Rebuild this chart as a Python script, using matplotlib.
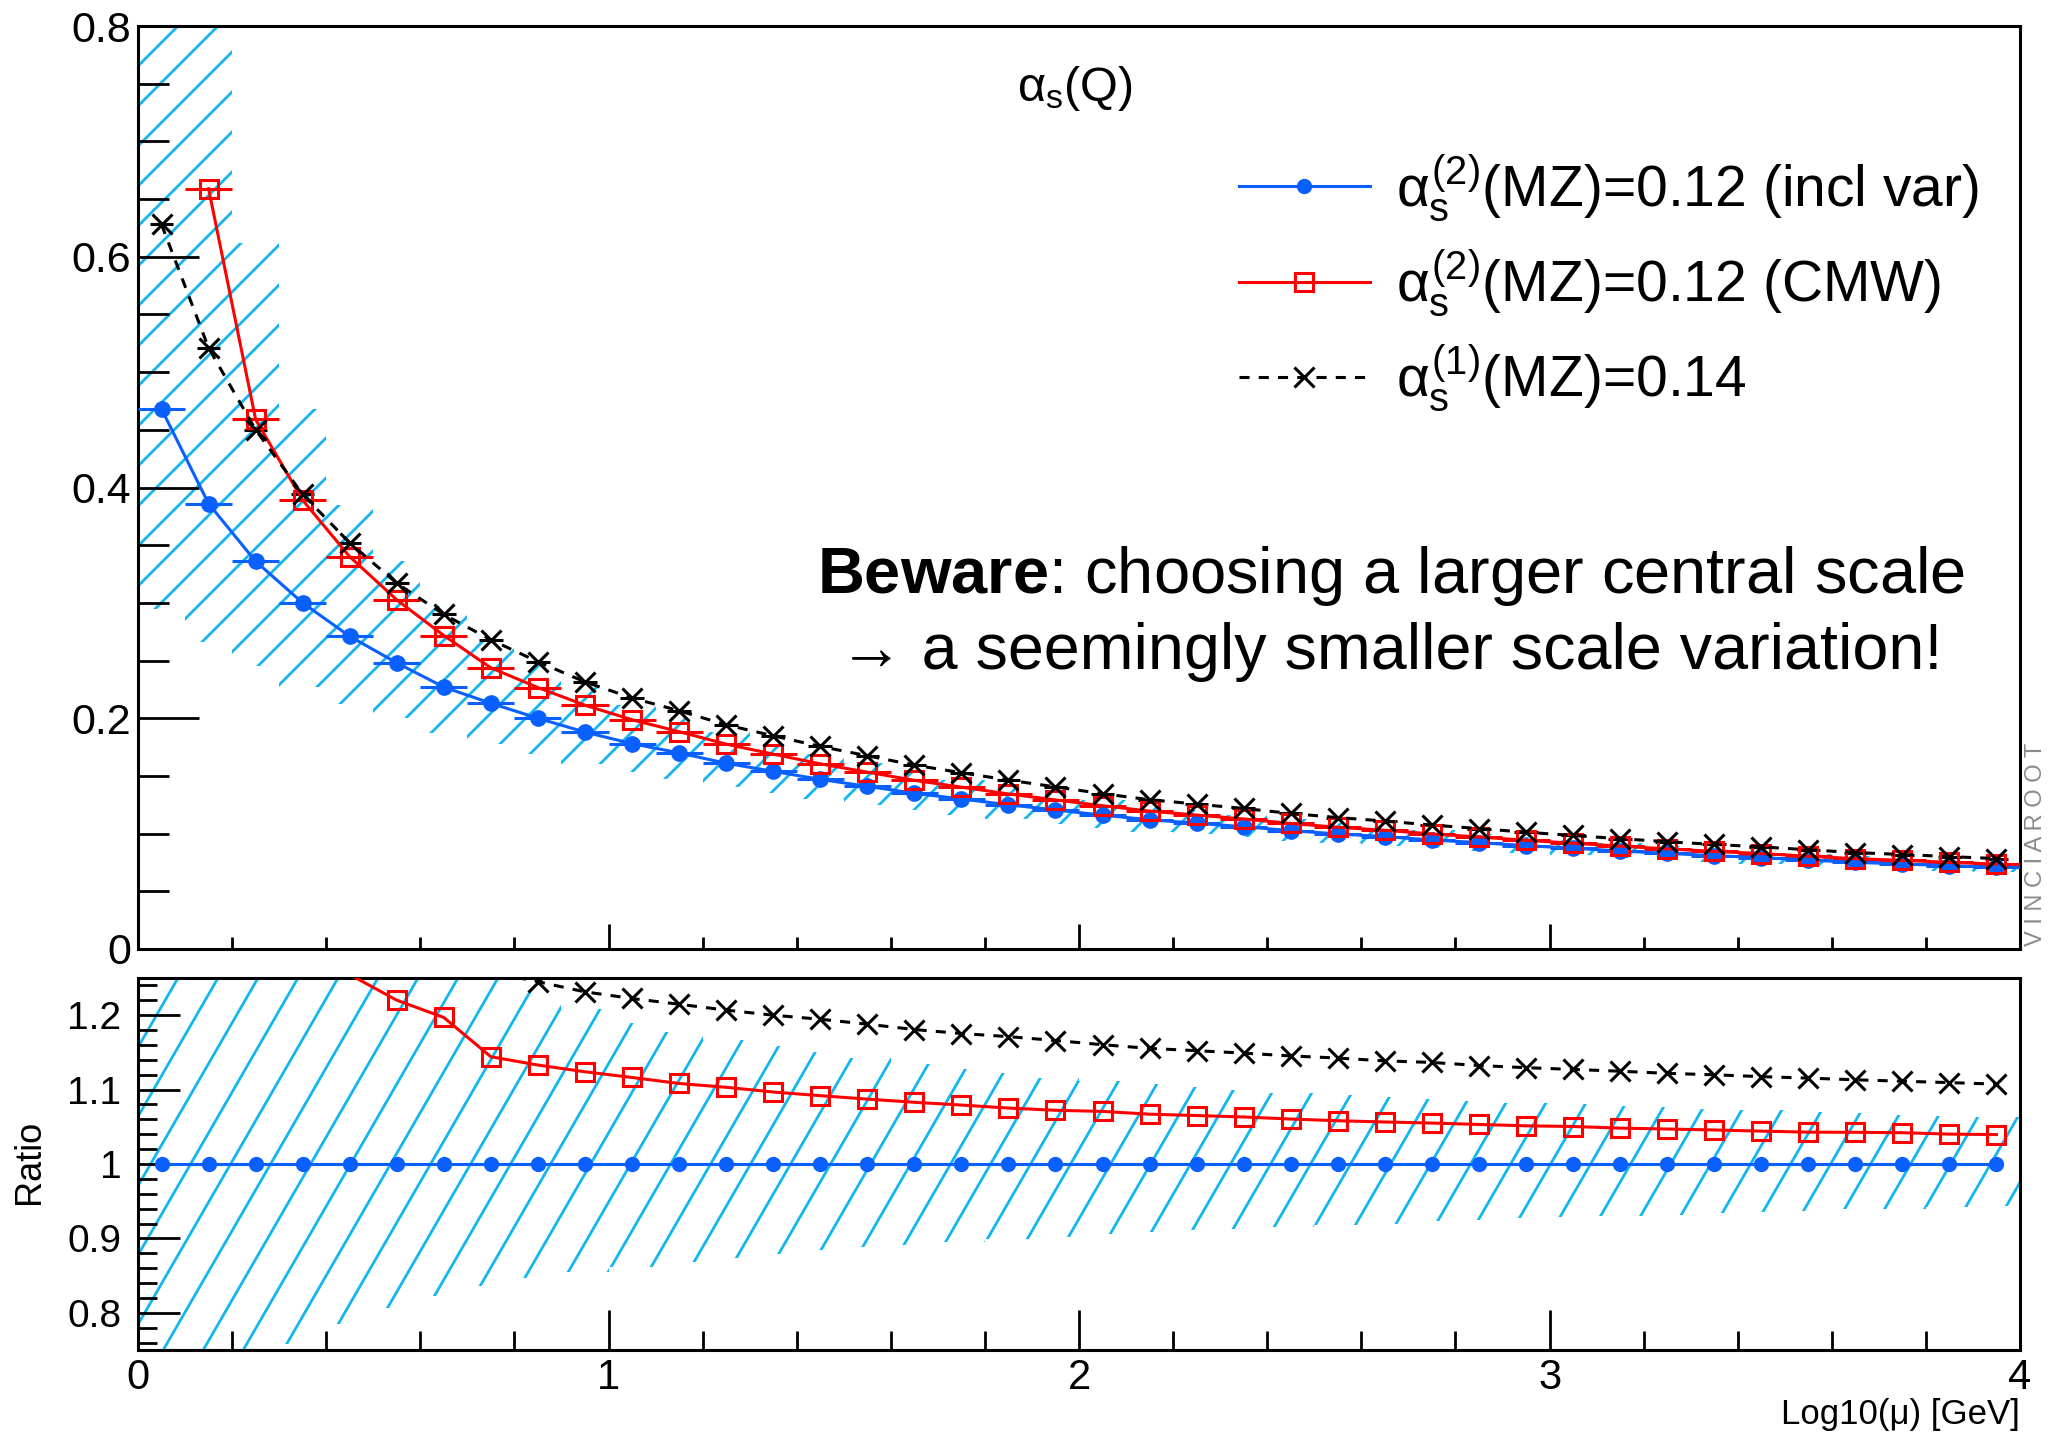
import numpy as np
import matplotlib
matplotlib.use("Agg")
import matplotlib.pyplot as plt
from matplotlib.collections import LineCollection
from matplotlib.lines import Line2D
from matplotlib.ticker import MultipleLocator, FixedLocator, FuncFormatter

plt.rcParams['font.family'] = ['Liberation Sans', 'DejaVu Sans']
plt.rcParams['mathtext.fontset'] = 'custom'
plt.rcParams['mathtext.rm'] = 'Liberation Sans'
plt.rcParams['mathtext.it'] = 'Liberation Sans'
plt.rcParams['mathtext.bf'] = 'Liberation Sans:bold'

# ---------------- data ----------------
log10_mu = [0.05, 0.15, 0.25, 0.35, 0.45, 0.55, 0.65, 0.75, 0.85, 0.95,
            1.05, 1.15, 1.25, 1.35, 1.45, 1.55, 1.65, 1.75, 1.85, 1.95,
            2.05, 2.15, 2.25, 2.35, 2.45, 2.55, 2.65, 2.75, 2.85, 2.95,
            3.05, 3.15, 3.25, 3.35, 3.45, 3.55, 3.65, 3.75, 3.85, 3.95]
bin_half_width = 0.05

alphas_incl_var = [0.468, 0.386, 0.336, 0.300, 0.271, 0.248, 0.227, 0.213, 0.200, 0.188,
                   0.178, 0.170, 0.161, 0.154, 0.147, 0.141, 0.135, 0.130, 0.125, 0.1205,
                   0.116, 0.112, 0.109, 0.106, 0.1026, 0.0997, 0.0974, 0.0945, 0.0922, 0.0896,
                   0.0873, 0.0850, 0.0829, 0.0809, 0.0792, 0.0771, 0.0751, 0.0737, 0.0722, 0.0708]

alphas_cmw = [np.nan, 0.659, 0.459, 0.389, 0.340, 0.3026, 0.2717, 0.2437, 0.2266, 0.2113,
              0.1987, 0.1884, 0.1776, 0.1689, 0.1605, 0.1533, 0.1462, 0.1403, 0.1344, 0.1292,
              0.1242, 0.1195, 0.1161, 0.1127, 0.1088, 0.1055, 0.1029, 0.0997, 0.0971, 0.0942,
              0.0917, 0.0891, 0.0868, 0.0846, 0.0827, 0.0804, 0.0783, 0.0768, 0.0751, 0.0736]

alphas_1loop = [0.628, 0.521, 0.450, 0.394, 0.352, 0.317, 0.290, 0.268, 0.249, 0.2315,
                0.2176, 0.2065, 0.1943, 0.1848, 0.1756, 0.1675, 0.1594, 0.1528, 0.1464, 0.1405,
                0.1346, 0.1294, 0.1256, 0.1218, 0.1175, 0.1139, 0.1109, 0.1074, 0.1044, 0.1012,
                0.0984, 0.0956, 0.0930, 0.0906, 0.0885, 0.0860, 0.0836, 0.0819, 0.0801, 0.0784]

# scale-variation band, relative to the central (incl var) curve
band_ratio_lo = [0.63, 0.69, 0.73, 0.758, 0.785, 0.806, 0.823, 0.836, 0.847, 0.855,
                 0.862, 0.868, 0.874, 0.879, 0.884, 0.888, 0.891, 0.895, 0.899, 0.902,
                 0.906, 0.909, 0.911, 0.913, 0.915, 0.918, 0.920, 0.923, 0.925, 0.927,
                 0.929, 0.930, 0.932, 0.934, 0.935, 0.937, 0.939, 0.940, 0.942, 0.943]
band_ratio_hi = [2.00, 2.10, 1.82, 1.56, 1.42, 1.355, 1.31, 1.262, 1.232, 1.208,
                 1.190, 1.177, 1.167, 1.158, 1.150, 1.142, 1.135, 1.128, 1.122, 1.116,
                 1.111, 1.107, 1.103, 1.099, 1.096, 1.093, 1.090, 1.087, 1.085, 1.082,
                 1.080, 1.078, 1.076, 1.074, 1.072, 1.070, 1.068, 1.066, 1.065, 1.063]

legend_labels = [r'$\alpha_{s}^{(2)}$(MZ)=0.12 (incl var)',
                 r'$\alpha_{s}^{(2)}$(MZ)=0.12 (CMW)',
                 r'$\alpha_{s}^{(1)}$(MZ)=0.14']
top_yticks = [0, 0.2, 0.4, 0.6, 0.8]
ratio_yticks = [0.8, 0.9, 1.0, 1.1, 1.2]
xticks = [0, 1, 2, 3, 4]

# ---------------- style ----------------
BLUE = '#0a5fff'
RED = '#ff0000'
HATCH = '#12b6f0'
W_PX, H_PX = 2056, 1434
TOP_YLIM = (0, 0.8)
RATIO_YLIM = (0.75, 1.25)

x = np.array(log10_mu)
blue = np.array(alphas_incl_var)
red = np.array(alphas_cmw)
black = np.array(alphas_1loop)
rlo = np.array(band_ratio_lo)
rhi = np.array(band_ratio_hi)
edges = np.append(x - bin_half_width, x[-1] + bin_half_width)

fig = plt.figure(figsize=(W_PX / 100, H_PX / 100), dpi=100)
ax1 = fig.add_axes([138 / W_PX, 1 - 949 / H_PX, 1882 / W_PX, 923 / H_PX])
ax2 = fig.add_axes([138 / W_PX, 1 - 1350 / H_PX, 1882 / W_PX, 372 / H_PX])


def hatch_band(ax, lo, hi, wpx, hpx, angle_deg=45.0, spacing=40.0, lw=2.0):
    poly = ax.fill_between(edges, np.append(lo, lo[-1]), np.append(hi, hi[-1]),
                           step='post', facecolor='none', edgecolor='none', linewidth=0)
    run = hpx / np.tan(np.radians(angle_deg))
    segs = []
    c = -run
    while c < wpx:
        segs.append([(c / wpx, 0.0), ((c + run) / wpx, 1.0)])
        c += spacing
    lc = LineCollection(segs, colors=HATCH, linewidths=lw, transform=ax.transAxes, zorder=1)
    ax.add_collection(lc, autolim=False)
    lc.set_clip_path(poly.get_paths()[0], ax.transData)


def inside(vals, lim):
    v = np.asarray(vals, dtype=float)
    return list(np.isfinite(v) & (v >= lim[0]) & (v <= lim[1]))


fmt = FuncFormatter(lambda v, p: '%g' % round(v, 6))

# ---------------- top panel ----------------
ax1.set_xlim(0, 4)
ax1.set_ylim(*TOP_YLIM)
hatch_band(ax1, blue * rlo, blue * rhi, 1882, 923, angle_deg=45)

ax1.errorbar(x, blue, xerr=bin_half_width, fmt='none', ecolor=BLUE, elinewidth=2.2, capsize=0, zorder=3)
ax1.plot(x, blue, color=BLUE, lw=2.2, marker='o', ms=11, zorder=4)
ax1.errorbar(x, red, xerr=bin_half_width, fmt='none', ecolor=RED, elinewidth=2.2, capsize=0, zorder=3)
ax1.plot(x, red, color=RED, lw=2.2, marker='s', ms=13, mfc='none', mec=RED, mew=2.2, zorder=4)
ax1.errorbar(x, black, xerr=bin_half_width / 2, fmt='none', ecolor='k', elinewidth=2.2, capsize=0, zorder=3)
ax1.plot(x, black, color='k', lw=2.2, ls=(0, (3.3, 3)), marker='x', ms=15, mew=2.2, zorder=4)

ax1.yaxis.set_major_locator(FixedLocator(top_yticks))
ax1.yaxis.set_minor_locator(MultipleLocator(0.05))
ax1.xaxis.set_major_locator(FixedLocator(xticks))
ax1.xaxis.set_minor_locator(MultipleLocator(0.2))
ax1.yaxis.set_major_formatter(fmt)
ax1.tick_params(which='both', direction='in', top=False, right=False, width=2)
ax1.tick_params(axis='y', which='major', length=44, labelsize=31, pad=5)
ax1.tick_params(axis='y', which='minor', length=22)
ax1.tick_params(axis='x', which='major', length=18, labelbottom=False)
ax1.tick_params(axis='x', which='minor', length=9)
for s in ax1.spines.values():
    s.set_linewidth(2.2)

handles = [Line2D([], [], color=BLUE, lw=2.2, marker='o', ms=10),
           Line2D([], [], color=RED, lw=2.2, marker='s', ms=13, mfc='none', mec=RED, mew=2.2),
           Line2D([], [], color='k', lw=2.2, ls=(0, (3.3, 3)), marker='x', ms=15, mew=2.2)]
ax1.legend(handles, legend_labels, loc='upper left', bbox_to_anchor=(0.585, 0.8625),
           frameon=False, fontsize=41, handlelength=2.3, handletextpad=0.46,
           labelspacing=0.42, borderpad=0, borderaxespad=0)

ax1.text(0.498, 0.932, r'$\alpha_{s}$(Q)', transform=ax1.transAxes, ha='center', va='center', fontsize=35)
ax1.text(2.663, 0.3086, r'$\mathbf{Beware}$: choosing a larger central scale',
         ha='center', va='baseline', fontsize=46.8)
ax1.text(2.663, 0.2427, '\u2192 a seemingly smaller scale variation!',
         ha='center', va='baseline', fontsize=46.5)
fig.text(2036 / W_PX, 1 - 946 / H_PX, 'V I N C I A R O O T', rotation=90,
         ha='center', va='bottom', color='#8a8a8a', fontsize=17)

# ---------------- ratio panel ----------------
ax2.set_xlim(0, 4)
ax2.set_ylim(*RATIO_YLIM)
hatch_band(ax2, rlo, rhi, 1882, 372, angle_deg=60)
r_blue = blue / blue
r_red = red / blue
r_black = black / blue
ax2.plot(x, r_blue, color=BLUE, lw=2.2, marker='o', ms=10, zorder=4,
         markevery=inside(r_blue, RATIO_YLIM))
ax2.plot(x, r_red, color=RED, lw=2.2, marker='s', ms=13, mfc='none', mec=RED, mew=2.2, zorder=4,
         markevery=inside(r_red, RATIO_YLIM))
ax2.plot(x, r_black, color='k', lw=2.2, ls=(0, (3.3, 3)), marker='x', ms=15, mew=2.2, zorder=4,
         markevery=inside(r_black, RATIO_YLIM))

ax2.yaxis.set_major_locator(FixedLocator(ratio_yticks))
ax2.yaxis.set_minor_locator(MultipleLocator(0.02))
ax2.xaxis.set_major_locator(FixedLocator(xticks))
ax2.xaxis.set_minor_locator(MultipleLocator(0.2))
ax2.yaxis.set_major_formatter(fmt)
ax2.xaxis.set_major_formatter(fmt)
ax2.tick_params(which='both', direction='in', top=False, right=False, width=2)
ax2.tick_params(axis='y', which='major', length=30, labelsize=28, pad=12)
ax2.tick_params(axis='y', which='minor', length=14)
ax2.tick_params(axis='x', which='major', length=29, labelsize=30, pad=6)
ax2.tick_params(axis='x', which='minor', length=14)
for s in ax2.spines.values():
    s.set_linewidth(2.2)
ax2.set_xlabel('Log10(\u03bc) [GeV]', loc='right', fontsize=25, labelpad=0)
fig.text(29 / W_PX, 1 - 1162 / H_PX, 'Ratio', rotation=90, ha='center', va='center', fontsize=26)

fig.savefig('out.png', dpi=100)
